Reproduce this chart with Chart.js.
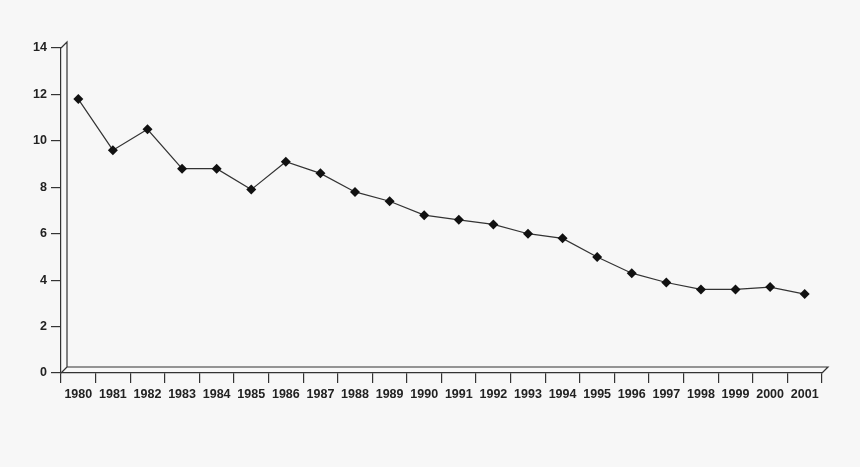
<!DOCTYPE html>
<html>
<head>
<meta charset="utf-8">
<script src="https://cdn.jsdelivr.net/npm/chart.js@4/dist/chart.umd.min.js"></script>
<style>
  html, body { margin: 0; padding: 0; background: #f7f7f7; }
  #wrap { width: 860px; height: 467px; }
</style>
</head>
<body>
<div id="wrap"><canvas id="chart"></canvas></div>
<script>
const years = ['1980','1981','1982','1983','1984','1985','1986','1987','1988','1989','1990',
  '1991','1992','1993','1994','1995','1996','1997','1998','1999','2000','2001'];
const values = [11.8, 9.6, 10.5, 8.8, 8.8, 7.9, 9.1, 8.6, 7.8, 7.4, 6.8,
  6.6, 6.4, 6.0, 5.8, 5.0, 4.3, 3.9, 3.6, 3.6, 3.7, 3.4];
const yTicks = [0, 2, 4, 6, 8, 10, 12, 14];

const depth = 6;
const ink = '#222';

// back wall of the pseudo-3d frame
const wall = {
  id: 'wall',
  beforeDatasetsDraw(chart) {
    const { ctx, chartArea: a } = chart;
    ctx.save();
    ctx.strokeStyle = '#333';
    ctx.lineWidth = 1.2;
    ctx.beginPath();
    ctx.moveTo(a.left, a.top);
    ctx.lineTo(a.left + depth, a.top - depth);
    ctx.lineTo(a.left + depth, a.bottom - depth);
    ctx.lineTo(a.right + depth, a.bottom - depth);
    ctx.lineTo(a.right, a.bottom);
    ctx.moveTo(a.left, a.bottom);
    ctx.lineTo(a.left + depth, a.bottom - depth);
    ctx.stroke();
    ctx.restore();
  }
};

new Chart(document.getElementById('chart'), {
  type: 'line',
  data: {
    labels: years,
    datasets: [{
      data: values,
      borderColor: '#333',
      borderWidth: 1.2,
      backgroundColor: '#111',
      pointStyle: 'rectRot',
      pointRadius: 5,
      pointBorderWidth: 0,
      tension: 0,
    }],
  },
  options: {
    responsive: true,
    maintainAspectRatio: false,
    animation: false,
    layout: { padding: { top: 48, right: 38, left: 0, bottom: 0 } },
    plugins: { legend: { display: false }, tooltip: { enabled: false } },
    scales: {
      x: {
        offset: true,
        afterFit(s) { s.height = 94; },
        grid: { offset: true, drawOnChartArea: false, drawTicks: true, tickLength: 10, color: '#333', lineWidth: 1.2 },
        border: { color: '#333', width: 1.2 },
        ticks: { color: ink, padding: 4, maxRotation: 0, autoSkip: false,
          font: { family: 'Liberation Sans', size: 12.5, weight: 'bold' } },
      },
      y: {
        min: 0, max: 14,
        afterFit(s) { s.width = 61; },
        afterBuildTicks(s) { s.ticks = yTicks.map(v => ({ value: v })); },
        grid: { drawOnChartArea: false, drawTicks: true, tickLength: 10, color: '#333', lineWidth: 1.2 },
        border: { color: '#333', width: 1.2 },
        ticks: { color: ink, padding: 4,
          font: { family: 'Liberation Sans', size: 12.5, weight: 'bold' } },
      },
    },
  },
  plugins: [wall],
});
</script>
</body>
</html>
